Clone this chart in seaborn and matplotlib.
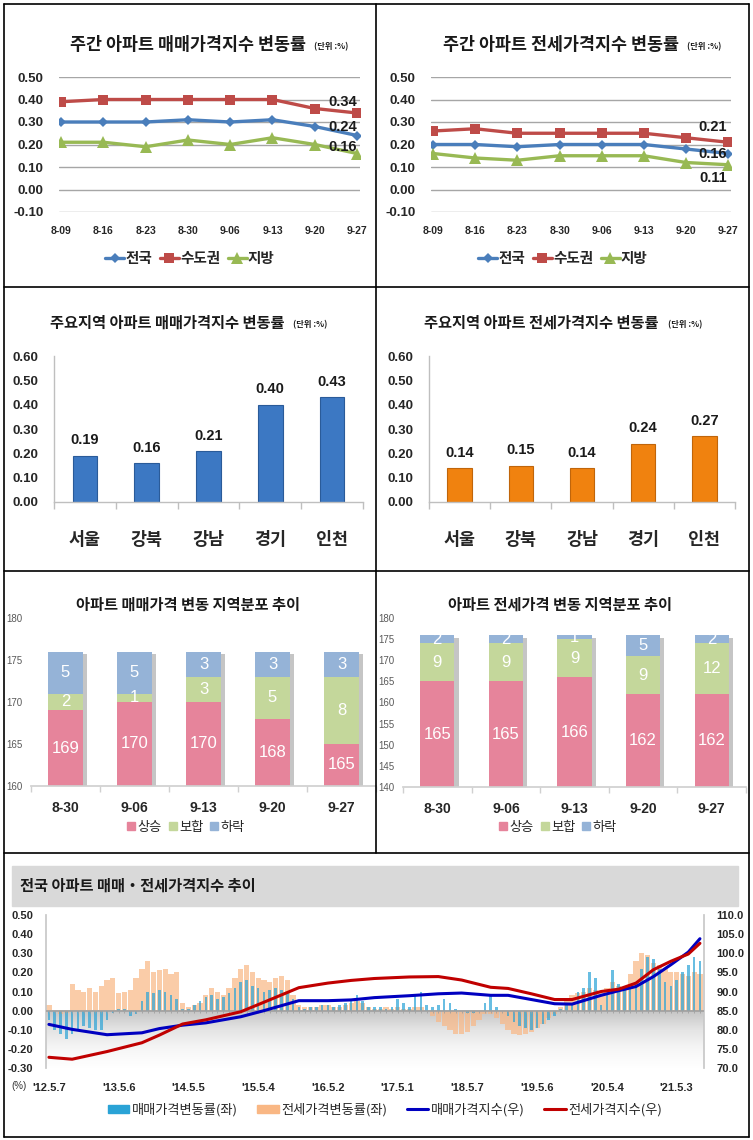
import numpy as np
import pandas as pd
import matplotlib
matplotlib.use('Agg')
import matplotlib.pyplot as plt
import seaborn as sns
import matplotlib.patheffects as pe
from matplotlib.lines import Line2D
from matplotlib.patches import Patch, Rectangle
from matplotlib.colors import LinearSegmentedColormap

# ---- data -------------------------------------------------------------
weeks = ['8-09', '8-16', '8-23', '8-30', '9-06', '9-13', '9-20', '9-27']
series_names = ['전국', '수도권', '지방']
sale_nat = [0.30, 0.30, 0.30, 0.31, 0.30, 0.31, 0.28, 0.24]
sale_cap = [0.39, 0.40, 0.40, 0.40, 0.40, 0.40, 0.36, 0.34]
sale_loc = [0.21, 0.21, 0.19, 0.22, 0.20, 0.23, 0.20, 0.16]
jeonse_nat = [0.20, 0.20, 0.19, 0.20, 0.20, 0.20, 0.18, 0.16]
jeonse_cap = [0.26, 0.27, 0.25, 0.25, 0.25, 0.25, 0.23, 0.21]
jeonse_loc = [0.16, 0.14, 0.13, 0.15, 0.15, 0.15, 0.12, 0.11]

regions = ['서울', '강북', '강남', '경기', '인천']
region_sale = [0.19, 0.16, 0.21, 0.40, 0.43]
region_jeonse = [0.14, 0.15, 0.14, 0.24, 0.27]

dist_weeks = ['8-30', '9-06', '9-13', '9-20', '9-27']
dist_names = ['상승', '보합', '하락']
sale_up = [169, 170, 170, 168, 165]
sale_flat = [2, 1, 3, 5, 8]
sale_down = [5, 5, 3, 3, 3]
jeonse_up = [165, 165, 166, 162, 162]
jeonse_flat = [9, 9, 9, 9, 12]
jeonse_down = [2, 2, 1, 5, 2]

month_sale_chg = [
    -0.05, -0.10, -0.12, -0.15, -0.12, -0.10, -0.08, -0.09, -0.10, -0.10, -0.05, -0.01,
    0.01, 0.01, -0.03, -0.02, 0.05, 0.10, 0.09, 0.11, 0.10, 0.08, 0.06, 0.01,
    0.01, 0.03, 0.05, 0.07, 0.08, 0.06, 0.07, 0.09, 0.12, 0.15, 0.16, 0.13,
    0.12, 0.10, 0.11, 0.12, 0.11, 0.10, 0.06, 0.02, 0.01, 0.02, 0.02, 0.03,
    0.03, 0.02, 0.03, 0.04, 0.06, 0.08, 0.05, 0.02, 0.02, 0.02, 0.01, 0.02,
    0.06, 0.04, 0.02, 0.08, 0.10, 0.03, 0.02, 0.03, 0.06, 0.04, 0.01, 0.00,
    -0.01, -0.01, 0.00, 0.04, 0.08, 0.02, 0.00, -0.03, -0.06, -0.08, -0.09, -0.10,
    -0.09, -0.07, -0.05, -0.03, 0.01, 0.03, 0.04, 0.10, 0.12, 0.20, 0.17, 0.03,
    0.08, 0.21, 0.14, 0.11, 0.12, 0.15, 0.22, 0.28, 0.27, 0.22, 0.15, 0.13,
    0.16, 0.20, 0.24, 0.28, 0.26]
month_jeonse_chg = [
    0.03, 0.00, -0.02, -0.01, 0.14, 0.11, 0.10, 0.12, 0.10, 0.13, 0.16, 0.17,
    0.09, 0.10, 0.11, 0.17, 0.22, 0.26, 0.20, 0.21, 0.22, 0.19, 0.20, 0.04,
    0.02, 0.03, 0.04, 0.08, 0.12, 0.10, 0.08, 0.12, 0.17, 0.22, 0.24, 0.20,
    0.17, 0.16, 0.15, 0.17, 0.18, 0.16, 0.08, 0.03, 0.02, 0.02, 0.02, 0.03,
    0.03, 0.02, 0.02, 0.03, 0.04, 0.05, 0.04, 0.02, 0.01, 0.01, 0.02, 0.01,
    0.02, 0.01, 0.01, 0.02, 0.02, 0.00, -0.03, -0.06, -0.08, -0.10, -0.12, -0.12,
    -0.11, -0.08, -0.05, -0.02, -0.02, -0.04, -0.07, -0.10, -0.12, -0.13, -0.12, -0.11,
    -0.09, -0.07, -0.04, -0.02, 0.02, 0.05, 0.08, 0.09, 0.10, 0.12, 0.11, 0.09,
    0.12, 0.15, 0.13, 0.12, 0.19, 0.26, 0.30, 0.29, 0.25, 0.24, 0.22, 0.20,
    0.20, 0.19, 0.18, 0.20, 0.19]
idx_month = [0, 4, 10, 16, 19, 23, 27, 33, 37, 43, 48, 52, 56, 62,
             67, 71, 76, 79, 83, 87, 90, 95, 98, 101, 104, 107, 110, 112]
sale_idx = [81.4, 80.1, 78.7, 79.2, 80.3, 81.2, 81.8, 83.4, 85.0, 87.6, 87.6, 87.8, 88.4, 88.9,
            89.4, 89.6, 89.0, 89.0, 87.9, 86.8, 86.7, 89.0, 90.2, 91.3, 93.9, 97.0, 100.3, 103.8]
jeonse_idx = [72.8, 72.3, 74.3, 76.6, 78.6, 81.5, 82.6, 84.7, 87.2, 91.0, 92.2, 92.9, 93.4, 93.8,
              93.9, 93.0, 91.1, 90.8, 89.4, 87.9, 87.9, 90.0, 90.6, 92.2, 95.7, 97.9, 99.8, 102.6]
long_tick_month = [0, 12, 24, 36, 48, 60, 72, 84, 96, 108]
long_tick_labels = ["'12.5.7", "'13.5.6", "'14.5.5", "'15.5.4", "'16.5.2",
                    "'17.5.1", "'18.5.7", "'19.5.6", "'20.5.4", "'21.5.3"]

# ---- style ------------------------------------------------------------
sns.set_theme(style='white')
plt.rcParams['font.family'] = ['Liberation Sans', 'Noto Sans CJK KR', 'DejaVu Sans']
KR = ['Noto Sans CJK KR', 'DejaVu Sans']
NARROW = ['Liberation Sans Narrow', 'Liberation Sans', 'DejaVu Sans']

W, H = 753, 1140
fig = plt.figure(figsize=(W / 100, H / 100), dpi=100)
fig.patch.set_facecolor('white')


def px_box(x0, y0, x1, y1):
    return [x0 / W, 1 - y1 / H, (x1 - x0) / W, (y1 - y0) / H]


def fx(x):
    return x / W


def fy(y):
    return 1 - y / H


line_colors = ['#4a7ebb', '#be4b48', '#98b954']
line_markers = ['D', 's', '^']
marker_sizes = [5, 7, 8]


def weekly_panel(box, vals, title_x, title, unit_x, legend_x, ends):
    ax = fig.add_axes(px_box(*box))
    pos = np.arange(len(weeks))
    for v, c, m, ms in zip(vals, line_colors, line_markers, marker_sizes):
        sns.lineplot(x=pos, y=v, ax=ax, color=c, marker=m, markersize=ms,
                     markeredgewidth=0, linewidth=2.4)
    ax.set_xlim(-0.05, 7.07)
    ax.set_ylim(-0.1, 0.5)
    ax.set_yticks(np.arange(-0.1, 0.51, 0.1))
    ax.set_yticklabels([f'{t:.2f}' for t in np.arange(-0.1, 0.51, 0.1)],
                       fontsize=9.5, fontweight='bold')
    ax.set_xticks(pos)
    ax.set_xticklabels(weeks, fontsize=7.5, fontweight='bold')
    ax.tick_params(axis='y', length=0, pad=11)
    ax.tick_params(axis='x', length=0, pad=10)
    ax.yaxis.grid(True, color='#a6a6a6', lw=1)
    ax.set_axisbelow(True)
    for s in ax.spines.values():
        s.set_visible(False)
    for v, (dx, dy) in zip(vals, ends):
        ax.annotate(f'{v[-1]:.2f}', xy=(pos[-1], v[-1]), xytext=(dx, dy),
                    textcoords='offset pixels', ha='center', va='center',
                    fontsize=10.5, fontweight='bold', color='#1a1a1a')
    fig.text(fx(title_x), fy(45), title, family=KR, fontsize=12.5,
             fontweight='bold', ha='center', va='center', color='#1a1a1a')
    fig.text(fx(unit_x), fy(47), '(단위 :%)', family=KR, fontsize=6,
             fontweight='bold', ha='left', va='center', color='#1a1a1a')
    handles = [Line2D([], [], color=c, marker=m, markersize=ms, markeredgewidth=0, lw=2.4)
               for c, m, ms in zip(line_colors, line_markers, marker_sizes)]
    fig.legend(handles, series_names, loc='center', bbox_to_anchor=(fx(legend_x), fy(258)),
               ncol=3, frameon=False, handlelength=1.3, handletextpad=0.1,
               columnspacing=0.5, prop={'family': KR, 'size': 10.5, 'weight': 'bold'})
    return ax


# end-label offsets follow the series order: 전국, 수도권, 지방
weekly_panel((59, 77, 360, 212), [sale_nat, sale_cap, sale_loc], 188,
             '주간 아파트 매매가격지수 변동률', 314, 190,
             [(-14, 8.5), (-14, 11), (-14, 6.5)])
weekly_panel((431, 77, 731, 212), [jeonse_nat, jeonse_cap, jeonse_loc], 561,
             '주간 아파트 전세가격지수 변동률', 687, 563,
             [(-15, 0), (-15, 15), (-15, -13)])


def region_panel(box, vals, color, edge, title_x, title, unit_x):
    ax = fig.add_axes(px_box(*box))
    sns.barplot(x=regions, y=vals, ax=ax, color=color, width=0.4, saturation=1,
                edgecolor=edge, linewidth=0.8, errorbar=None)
    ax.bar_label(ax.containers[0], fmt='%.2f', padding=6, fontsize=10.5,
                 fontweight='bold', color='#1a1a1a')
    ax.set_xlim(-0.5, 4.5)
    ax.set_ylim(0, 0.6)
    ticks = np.arange(0, 0.61, 0.1)
    ax.set_yticks(ticks)
    ax.set_yticklabels([f'{t:.2f}' for t in ticks], fontsize=9.5, fontweight='bold')
    ax.set_xticklabels(regions, family=KR, fontsize=12.5, fontweight='bold')
    ax.set_xticks(np.arange(-0.5, 4.6, 1), minor=True)
    ax.tick_params(axis='y', length=0, pad=11)
    ax.tick_params(axis='x', which='major', length=0, pad=21)
    ax.tick_params(axis='x', which='minor', length=5, color='#bfbfbf', width=1, direction='out')
    ax.xaxis.set_tick_params(which='minor', bottom=True)
    for k in ['top', 'right']:
        ax.spines[k].set_visible(False)
    for k in ['left', 'bottom']:
        ax.spines[k].set_color('#bfbfbf')
        ax.spines[k].set_linewidth(1)
    ax.set_xlabel('')
    fig.text(fx(title_x), fy(323), title, family=KR, fontsize=11,
             fontweight='bold', ha='center', va='center', color='#1a1a1a')
    fig.text(fx(unit_x), fy(325), '(단위 :%)', family=KR, fontsize=6,
             fontweight='bold', ha='left', va='center', color='#1a1a1a')


region_panel((54, 356, 363, 502), region_sale, '#3c78c3', '#2a5b99', 167,
             '주요지역 아파트 매매가격지수 변동률', 293)
region_panel((429, 356, 735, 502), region_jeonse, '#f0820f', '#c0650a', 541,
             '주요지역 아파트 전세가격지수 변동률', 668)

dist_colors = ['#e6849b', '#c4d79b', '#95b3d7']


def dist_panel(box, up, flat, down, ylo, title_x, title, legend_x):
    ax = fig.add_axes(px_box(*box))
    up = np.array(up)
    flat = np.array(flat)
    down = np.array(down)
    total = up + flat + down
    # draw back to front so the stacks show through
    sns.barplot(x=dist_weeks, y=total, ax=ax, color=dist_colors[2], width=0.5,
                saturation=1, errorbar=None, linewidth=0)
    for p in ax.patches:
        p.set_path_effects([pe.SimplePatchShadow(offset=(3, -2), shadow_rgbFace='#808080',
                                                 alpha=0.45), pe.Normal()])
    sns.barplot(x=dist_weeks, y=up + flat, ax=ax, color=dist_colors[1], width=0.5,
                saturation=1, errorbar=None, linewidth=0)
    sns.barplot(x=dist_weeks, y=up, ax=ax, color=dist_colors[0], width=0.5,
                saturation=1, errorbar=None, linewidth=0)
    ax.set_ylim(ylo, 180)
    ax.set_xlim(-0.5, 4.5)
    ax.set_yticks(np.arange(ylo, 181, 5))
    ax.set_yticklabels([str(t) for t in np.arange(ylo, 181, 5)], fontsize=7,
                       color='#595959', family=NARROW)
    ax.set_xticklabels(dist_weeks, fontsize=10, fontweight='bold')
    ax.set_xticks(np.arange(-0.5, 4.6, 1), minor=True)
    ax.tick_params(axis='y', length=0, pad=6)
    ax.tick_params(axis='x', which='major', length=0, pad=11)
    ax.tick_params(axis='x', which='minor', length=4, color='#d0d0d0', width=1, direction='out')
    ax.xaxis.set_tick_params(which='minor', bottom=True)
    for k in ['top', 'right', 'left']:
        ax.spines[k].set_visible(False)
    ax.spines['bottom'].set_color('#d0d0d0')
    for i in range(len(dist_weeks)):
        mids = [(ylo + up[i]) / 2, up[i] + flat[i] / 2, up[i] + flat[i] + down[i] / 2]
        for val, mid in zip([up[i], flat[i], down[i]], mids):
            ax.text(i, mid, str(val), ha='center', va='center', color='white',
                    fontsize=12, family=NARROW)
    fig.text(fx(title_x), fy(605), title, family=KR, fontsize=11,
             fontweight='bold', ha='center', va='center', color='#1a1a1a')
    handles = [Patch(color=c) for c in dist_colors]
    fig.legend(handles, dist_names, loc='center', bbox_to_anchor=(fx(legend_x), fy(827)),
               ncol=3, frameon=False, handlelength=0.6, handleheight=0.6,
               handletextpad=0.2, columnspacing=0.5,
               prop={'family': KR, 'size': 9.5})


dist_panel((31, 618, 376, 786), sale_up, sale_flat, sale_down, 160, 188,
           '아파트 매매가격 변동 지역분포 추이', 186)
dist_panel((403, 618, 746, 787), jeonse_up, jeonse_flat, jeonse_down, 140, 560,
           '아파트 전세가격 변동 지역분포 추이', 558)

# ---- long-term chart --------------------------------------------------
fig.add_artist(Rectangle((fx(12), fy(906)), (738 - 12) / W, 40 / H,
                         transform=fig.transFigure, color='#d9d9d9', zorder=0))
fig.text(fx(20), fy(886), '전국 아파트 매매・전세가격지수 추이', family=KR, fontsize=11,
         fontweight='bold', ha='left', va='center', color='#1a1a1a')

ax = fig.add_axes(px_box(46, 915, 704, 1068))
months = np.arange(len(month_sale_chg))
x0, x1 = -0.5, len(months) - 0.3
grad = LinearSegmentedColormap.from_list('floor', ['#ffffff', '#f6f6f6', '#e4e4e4', '#c4c4c4'])
ax.imshow(np.linspace(0, 1, 200).reshape(-1, 1), extent=[x0, x1, 0, -0.3], cmap=grad,
          aspect='auto', zorder=0, origin='upper')
ax.bar(months, month_jeonse_chg, width=0.9, color='#f9b784', alpha=0.7, zorder=2, linewidth=0)
ax.bar(months, month_sale_chg, width=0.45, color='#2aa3d6', alpha=0.7, zorder=3, linewidth=0)
ax.axhline(0, color='#a0a0a0', lw=1.2, zorder=4)
ax.vlines(months, -0.012, 0, color='#a0a0a0', lw=0.6, zorder=4)
ax.set_xlim(x0, x1)
ax.set_ylim(-0.3, 0.5)
lt = np.arange(-0.3, 0.51, 0.1)
ax.set_yticks(lt)
ax.set_yticklabels([f'{t:.2f}' for t in lt], fontsize=8, fontweight='bold')
ax.set_xticks(long_tick_month)
ax.set_xticklabels(long_tick_labels, fontsize=8, fontweight='bold')
ax.tick_params(axis='both', length=0)
ax.tick_params(axis='y', pad=9)
ax.tick_params(axis='x', pad=11)
for k in ['top', 'bottom']:
    ax.spines[k].set_visible(False)
for k in ['left', 'right']:
    ax.spines[k].set_color('#c8c8c8')

ax2 = ax.twinx()
sns.lineplot(x=idx_month, y=sale_idx, ax=ax2, color='#0000c0', linewidth=2.2)
sns.lineplot(x=idx_month, y=jeonse_idx, ax=ax2, color='#c00000', linewidth=2.2)
ax2.set_ylim(70, 110)
rt = np.arange(70, 110.1, 5)
ax2.set_yticks(rt)
ax2.set_yticklabels([f'{t:.1f}' for t in rt], fontsize=8, fontweight='bold')
ax2.tick_params(axis='y', length=0, pad=9)
for s in ax2.spines.values():
    s.set_visible(False)
ax2.set_xlim(x0, x1)

fig.text(fx(19), fy(1086), '(%)', fontsize=7, ha='center', va='center', color='#333333')
handles = [Patch(color='#2aa3d6'), Patch(color='#f9b784'),
           Line2D([], [], color='#0000c0', lw=2.2), Line2D([], [], color='#c00000', lw=2.2)]
labels = ['매매가격변동률(좌)', '전세가격변동률(좌)', '매매가격지수(우)', '전세가격지수(우)']
fig.legend(handles, labels, loc='center', bbox_to_anchor=(fx(385), fy(1110)), ncol=4,
           frameon=False, handlelength=1.6, handleheight=0.6, handletextpad=0.2,
           columnspacing=1.5, prop={'family': KR, 'size': 9.5})

# ---- panel borders ----------------------------------------------------
for (ax0, ay0, ax1, ay1) in [(4, 4, 749, 4), (4, 1137, 749, 1137), (4, 4, 4, 1137),
                             (749, 4, 749, 1137), (4, 287, 749, 287), (4, 571, 749, 571),
                             (4, 853, 749, 853), (376, 4, 376, 853)]:
    fig.add_artist(Line2D([fx(ax0), fx(ax1)], [fy(ay0), fy(ay1)], color='black', lw=1.2))

fig.savefig('out.png', dpi=100, facecolor='white')
